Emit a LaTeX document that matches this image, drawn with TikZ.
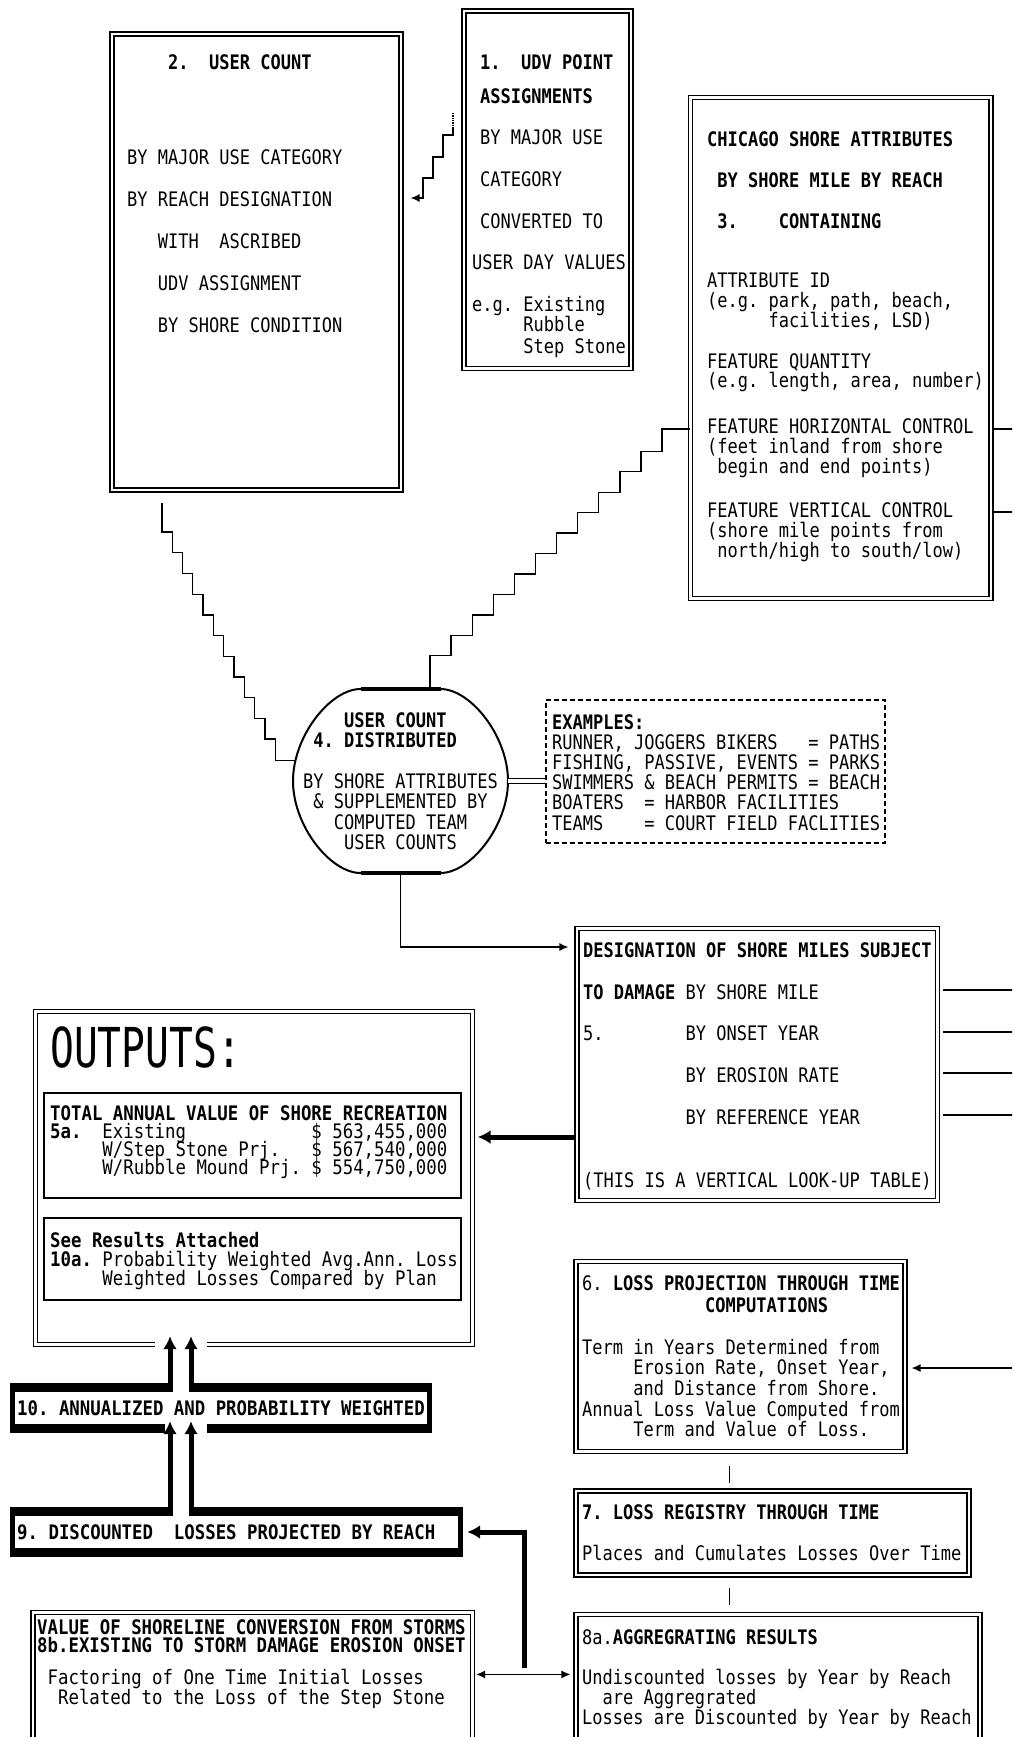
\documentclass[tikz,border=0pt]{standalone}
\usepackage{fontspec}
\usetikzlibrary{calc, arrows.meta, shapes.geometric}
\newfontfamily\pixfont[FakeStretch=0.851]{DejaVu Sans Mono}
\newfontfamily\pixwfont[FakeStretch=0.868]{DejaVu Sans Mono}
\newfontfamily\bigpixfont[FakeStretch=0.72]{DejaVu Sans Mono}
% n empty character cells of the current (monospaced) font
\newcommand\ind[1]{\leavevmode\hbox to #1\fontcharwd\font`0{\hfil}}
% one space = one character cell
\newcommand\cellspace{\spaceskip=\fontcharwd\font`0\relax\xspaceskip=\spaceskip}

\begin{document}
\begin{tikzpicture}[x=1pt, y=-1pt,
  dbox/.style={draw, double, double distance=2.8pt, line width=1.2pt, inner sep=0pt},
  dline/.style={double, double distance=2.8pt, line width=1.2pt},
  sbox/.style={draw, line width=1.5pt, inner sep=0pt},
  dashbox/.style={draw, line width=1.1pt, dash pattern=on 5pt off 3pt, inner sep=0pt},
  bare/.style={inner sep=0pt},
  band/.style={line width=9pt},
  bandside/.style={line width=5pt},
  link/.style={line width=1.3pt},
  flow/.style={link, -{Latex[length=9pt,width=8pt]}},
  flows/.style={link, {Latex[length=9pt,width=8pt]}-{Latex[length=9pt,width=8pt]}},
  fat/.style={line width=5pt, -{Latex[length=13pt,width=14pt]}},
  txt/.style={anchor=base west, inner sep=0pt, text width=445pt, align=flush left},
  pix/.style={font={\pixfont\fontsize{20}{#1}\selectfont\lineskiplimit=-100pt},
    execute at begin node=\cellspace},
  pixw/.style={font={\pixwfont\fontsize{20}{#1}\selectfont\lineskiplimit=-100pt},
    execute at begin node=\cellspace}]
  % page = scan, 1pt per pixel, y running down
  \useasboundingbox (0,0) rectangle (1012,1737);
  \fill[white] (0,0) rectangle (1012,1737);
  \clip (0,0) rectangle (1012,1737);

  % frames
  \node[dbox, minimum width=289pt, minimum height=456pt] (user) at (256.5,262) {};
  \node[dbox, minimum width=167pt, minimum height=357.5pt] (udv) at (547.5,189.75) {};
  \node[dbox, minimum width=300.5pt, minimum height=501pt] (attr) at (840.75,348) {};
  \node[ellipse, inner sep=0pt, minimum width=215pt, minimum height=184pt] (dist) at (400.5,781) {};
  \node[dashbox, minimum width=339pt, minimum height=143pt] (ex) at (715.5,771.5) {};
  \node[dbox, minimum width=360.5pt, minimum height=272pt] (desig) at (757.25,1064.5) {};
  \node[bare, minimum width=437pt, minimum height=332.5pt] (outputs) at (254,1177.75) {};
  \node[sbox, minimum width=417pt, minimum height=105pt] (total) at (252.5,1145.5) {};
  \node[sbox, minimum width=417pt, minimum height=82pt] (results) at (252.5,1259) {};
  \node[bare, minimum width=422pt, minimum height=50pt] (annual) at (221,1408) {};
  \node[bare, minimum width=453pt, minimum height=50pt] (disc) at (236.5,1532) {};
  \node[dbox, minimum width=329pt, minimum height=190pt] (loss) at (740.5,1356.5) {};
  \node[dbox, minimum width=393pt, minimum height=84pt] (regis) at (772.5,1533) {};
  \node[dbox, minimum width=404pt, minimum height=145.5pt] (aggr) at (778,1687.25) {};
  \node[dbox, minimum width=439.5pt, minimum height=147.5pt] (conv) at (252.75,1686.25) {};

  % the round box with flat top and bottom
  \begin{scope}[shift={(dist.center)}]
    \draw[line width=2pt] (-40,-92) -- (40,-92) .. controls (70,-92) and (107.5,-45) .. (107.5,0)
      .. controls (107.5,45) and (70,92) .. (40,92) -- (-40,92)
      .. controls (-70,92) and (-107.5,45) .. (-107.5,0)
      .. controls (-107.5,-45) and (-70,-92) .. cycle;
    \draw[line width=4.5pt] (-40,-92) -- (40,-92);
    \draw[line width=4.5pt] (-40,92) -- (40,92);
  \end{scope}

  % OUTPUTS frame, open at the bottom for the arrows
  \draw[dline] ($(outputs.south west)+(119.5,0)$) -- (outputs.south west) -- (outputs.north west)
    -- (outputs.north east) -- (outputs.south east) -- ($(outputs.south west)+(171.5,0)$);

  % heavy frames of 10 and 9
  \draw[band] (10,1387.5) -- (172.5,1387.5);
  \draw[band] (188.5,1387.5) -- (432,1387.5);
  \draw[band] (10,1428.5) -- (165,1428.5);
  \draw[band] (207,1428.5) -- (432,1428.5);
  \draw[bandside] (12.5,1383) -- (12.5,1433);
  \draw[bandside] (429.5,1383) -- (429.5,1433);
  \draw[band] (10,1511.5) -- (172.5,1511.5);
  \draw[band] (188.5,1511.5) -- (463,1511.5);
  \draw[band] (10,1552.5) -- (463,1552.5);
  \draw[bandside] (12.5,1507) -- (12.5,1557);
  \draw[bandside] (460.5,1507) -- (460.5,1557);

  % texts
  \node[txt, pix=20] (usertxt) at (127,70) {\ind{4}\textbf{2.\ind{2}USER COUNT}\\[75pt]
    BY MAJOR USE CATEGORY\\[22pt] BY REACH DESIGNATION\\[22pt]
    \ind{3}WITH\ind{2}ASCRIBED\\[22pt] \ind{3}UDV ASSIGNMENT\\[22pt] \ind{3}BY SHORE CONDITION};
  \node[txt, pix=20] (udvtxt) at (472,70) {\hspace*{8pt}\textbf{1.\ind{2}UDV POINT}\\[14pt]
    \hspace*{8pt}\textbf{ASSIGNMENTS}\\[21pt] \hspace*{8pt}BY MAJOR USE\\[22pt]
    \hspace*{8pt}CATEGORY\\[22pt] \hspace*{8pt}CONVERTED TO\\[21pt]
    USER DAY VALUES\\[22pt] e.g. Existing\\ \ind{5}Rubble\\[2pt] \ind{5}Step Stone};
  \node[txt, pix=19.7] (attrtxt) at (707,146) {\textbf{CHICAGO SHORE ATTRIBUTES}\\[21.3pt]
    \ind{1}\textbf{BY SHORE MILE BY REACH}\\[21.3pt]
    \ind{1}\textbf{3.\ind{4}CONTAINING}\\[40pt]
    ATTRIBUTE ID\\ (e.g. park, path, beach,\\ \ind{6}facilities, LSD)\\[21.3pt]
    FEATURE QUANTITY\\ (e.g. length, area, number)\\[26.3pt]
    FEATURE HORIZONTAL CONTROL\\ (feet inland from shore\\ \ind{1}begin and end points)\\[25pt]
    FEATURE VERTICAL CONTROL\\ (shore mile points from\\ \ind{1}north/high to south/low)};
  \node[pix=20.5, inner sep=0pt, text width=215pt, align=center] (disttxt) at (dist.center)
    {\textbf{\ind{3}USER COUNT\ind{4}}\\ \textbf{4. DISTRIBUTED\ind{3}}\\[20pt]
    BY SHORE ATTRIBUTES\\ \& SUPPLEMENTED BY\\ COMPUTED TEAM\\ USER COUNTS};
  \node[txt, pix=20.2] (extxt) at (552,729) {\textbf{EXAMPLES:}\\
    RUNNER, JOGGERS BIKERS\ind{3}= PATHS\\ FISHING, PASSIVE, EVENTS = PARKS\\
    SWIMMERS \& BEACH PERMITS = BEACH\\ BOATERS\ind{2}= HARBOR FACILITIES\\
    TEAMS\ind{4}= COURT FIELD FACLITIES};
  \node[txt, pix=20] (desigtxt) at (583,957) {\textbf{DESIGNATION OF SHORE MILES SUBJECT}\\[22pt]
    \textbf{TO DAMAGE} BY SHORE MILE\\[21pt] 5.\ind{8}BY ONSET YEAR\\[22pt]
    \ind{10}BY EROSION RATE\\[22pt] \ind{10}BY REFERENCE YEAR\\[43pt]
    (THIS IS A VERTICAL LOOK-UP TABLE)};
  \node[anchor=base west, inner sep=0pt, font=\bigpixfont\fontsize{55}{55}\selectfont]
    (outputsttl) at (50,1067) {OUTPUTS:};
  \node[txt, pixw=18] (totaltxt) at (50,1120) {\textbf{TOTAL ANNUAL VALUE OF SHORE RECREATION}\\
    \textbf{5a.}\ind{2}Existing\ind{12}\$ 563,455,000\\
    \ind{5}W/Step Stone Prj.\ind{3}\$ 567,540,000\\
    \ind{5}W/Rubble Mound Prj. \$ 554,750,000};
  \node[txt, pixw=19] (resultstxt) at (50,1247) {\textbf{See Results Attached}\\
    \textbf{10a.} Probability Weighted Avg.Ann. Loss\\
    \ind{5}Weighted Losses Compared by Plan};
  \node[txt, pixw=20] (annualtxt) at (17,1415) {\textbf{10. ANNUALIZED AND PROBABILITY WEIGHTED}};
  \node[txt, pixw=20] (disctxt) at (17,1539) {\textbf{9. DISCOUNTED\ind{2}LOSSES PROJECTED BY REACH}};
  \node[txt, pixw=18] (convtxt) at (37,1634) {\textbf{VALUE OF SHORELINE CONVERSION FROM STORMS}\\
    \textbf{8b.EXISTING TO STORM DAMAGE EROSION ONSET}\\[14pt]
    \ind{1}Factoring of One Time Initial Losses\\[2pt]
    \ind{2}Related to the Loss of the Step Stone};
  \node[txt, pix=20.7] (losstxt) at (582,1290) {6. \textbf{LOSS PROJECTION THROUGH TIME}\\[1.3pt]
    \ind{12}\textbf{COMPUTATIONS}\\[21.3pt]
    Term in Years Determined from\\ \ind{5}Erosion Rate, Onset Year,\\
    \ind{5}and Distance from Shore.\\ Annual Loss Value Computed from\\
    \ind{5}Term and Value of Loss.};
  \node[txt, pix=20] (registxt) at (582,1519) {\textbf{7. LOSS REGISTRY THROUGH TIME}\\[21pt]
    Places and Cumulates Losses Over Time};
  \node[txt, pix=20] (aggrtxt) at (582,1644) {8a.\textbf{AGGREGRATING RESULTS}\\[20pt]
    Undiscounted losses by Year by Reach\\ \ind{2}are Aggregrated\\
    Losses are Discounted by Year by Reach};

  % connectors
  \coordinate (udvtap) at (453,113);
  \draw[link, densely dotted] (udvtap) -- ++(0,14) coordinate (udvstep);
  \draw[flow] (udvstep) -- ++(0,8) -- ++(-10,0) -- ++(0,22) -- ++(-10,0) -- ++(0,21)
    -- ++(-10,0) |- ($(user.east)+(9,-64)$);
  \draw[link] ($(user.south west)+(50.5,12.5)$) -- ++(0,29)
    -- ++(10.3,0) -- ++(0,20.7) -- ++(10.3,0) -- ++(0,20.7) -- ++(10.3,0) -- ++(0,20.7)
    -- ++(10.3,0) -- ++(0,20.7) -- ++(10.3,0) -- ++(0,20.7) -- ++(10.3,0) -- ++(0,20.7)
    -- ++(10.3,0) -- ++(0,20.7) -- ++(10.3,0) -- ++(0,20.7) -- ++(10.3,0) -- ++(0,20.7)
    -- ++(10.3,0) -- ++(0,20.7) -- ++(10.3,0) |- (dist.169);
  \draw[link] ($(dist.north)+(29.5,0)$) -- ++(0,-33)
    -- ++(21.1,0) -- ++(0,-20.45) -- ++(21.1,0) -- ++(0,-20.45) -- ++(21.1,0) -- ++(0,-20.45)
    -- ++(21.1,0) -- ++(0,-20.45) -- ++(21.1,0) -- ++(0,-20.45) -- ++(21.1,0) -- ++(0,-20.45)
    -- ++(21.1,0) -- ++(0,-20.45) -- ++(21.1,0) -- ++(0,-20.45) -- ++(21.1,0) -- ++(0,-20.45)
    -- ++(21.1,0) -- ++(0,-20.45) -- ++(21.1,0) |- ($(attr.west)+(0,81)$);
  \draw[link] ($(attr.east)+(0,81)$) -- ++(25,0);
  \draw[link] ($(attr.east)+(0,164)$) -- ++(25,0);
  \draw[link, double, double distance=3.5pt] (dist.east) -- (dist.east -| ex.west);
  \draw[flow, shorten >=8pt] (dist.south) |- ($(desig.west)+(0,-117.5)$);
  \draw[link] ($(desig.east)+(5,-74.5)$) -- ++(80,0);
  \draw[link] ($(desig.east)+(5,-32.5)$) -- ++(80,0);
  \draw[link] ($(desig.east)+(5,8.5)$) -- ++(80,0);
  \draw[link] ($(desig.east)+(5,50.5)$) -- ++(80,0);
  \draw[fat, shorten >=5pt] ($(desig.west)+(0,72.5)$) coordinate (lookup) -- (outputs.east |- lookup);
  \coordinate (edge6) at (1012,1368);
  \draw[flow, shorten >=6pt] (edge6) -- (loss.east |- edge6);
  \draw[link] ($(loss.south west)+(154,14)$) -- ($(regis.north west)+(154,-7)$);
  \draw[link] ($(regis.south west)+(154,12)$) -- ($(aggr.north west)+(154,-9)$);
  \draw[flows, shorten <=3pt, shorten >=5pt] ($(conv.north east)+(0,62.5)$) coordinate (convout)
    -- (aggr.west |- convout);
  \coordinate (junc) at (524.5,1668);
  \draw[fat, shorten >=4pt] (junc) |- (disc.east);
  \coordinate (lane1) at (170,0);
  \coordinate (lane2) at (191,0);
  \draw[fat, shorten >=-12pt] (disc.north -| lane1) -- (annual.south -| lane1);
  \draw[fat, shorten >=-12pt] (disc.north -| lane2) -- (annual.south -| lane2);
  \draw[fat, shorten >=-8pt] (annual.north -| lane1) -- (outputs.south -| lane1);
  \draw[fat, shorten >=-8pt] (annual.north -| lane2) -- (outputs.south -| lane2);
\end{tikzpicture}
\end{document}
